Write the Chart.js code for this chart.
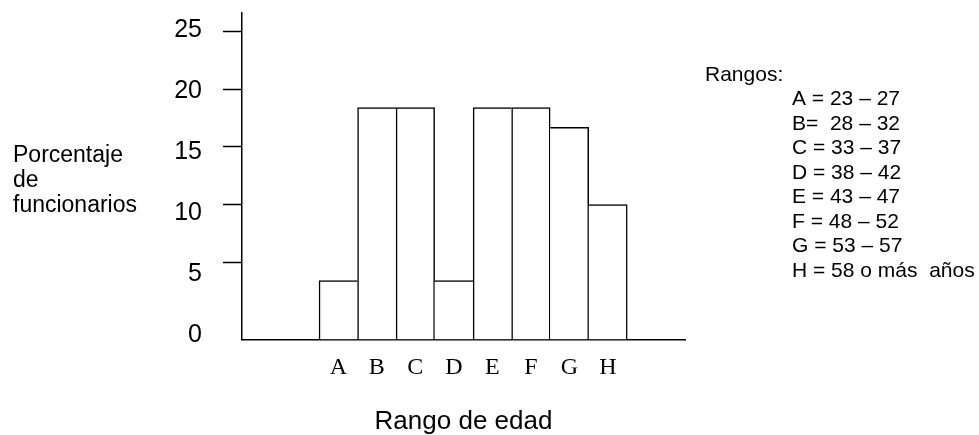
<!DOCTYPE html>
<html>
<head>
<meta charset="utf-8">
<script src="https://cdn.jsdelivr.net/npm/chart.js@4"></script>
<style>
  body { margin: 0; background: #fff; }
  #wrap { width: 979px; height: 435px; position: relative; }
</style>
</head>
<body>
<div id="wrap"><canvas id="myChart"></canvas></div>
<script>
// datos
const categories = ["A", "B", "C", "D", "E", "F", "G", "H"];
const percentages = [3.4, 18.4, 18.4, 3.4, 18.4, 18.4, 16.7, 10];
const yTickValues = [5, 10, 15, 20, 25];
const yLabelValues = [0, 5, 10, 15, 20, 25];
const yTickLabels = ["0", "5", "10", "15", "20", "25"];
const yTitleLines = ["Porcentaje", "de", "funcionarios"];
const rangeTitle = "Rangos:";
const rangeLabels = [
  "A = 23 – 27",
  "B=  28 – 32",
  "C = 33 – 37",
  "D = 38 – 42",
  "E = 43 – 47",
  "F = 48 – 52",
  "G = 53 – 57",
  "H = 58 o más  años",
];

// en el original la base de las barras queda algo por debajo del 0 real
// y la columna de numeros no coincide del todo con las marcas
const yAxisMin = -1.7;
const yAxisMax = 26.6;
const labelAxisMin = -0.33;
const labelAxisMax = 26.37;
const firstSlot = 2.5; // dos huecos vacios antes de A
const xAxisMax = 11.5;

const line = 1.5;
const sans = "'Liberation Sans', Arial, sans-serif";

// bordes: la arista compartida la dibuja la barra mas alta
function barBorder(ctx) {
  const i = ctx.dataIndex;
  const v = percentages[i];
  const left = i === 0 || percentages[i - 1] <= v ? line : 0;
  const right = i === percentages.length - 1 || percentages[i + 1] < v ? line : 0;
  return { top: line, left: left, right: right, bottom: 0 };
}

const textPlugin = {
  id: "sideTexts",
  afterDraw(chart) {
    const c = chart.ctx;
    c.save();
    c.fillStyle = "#000";
    c.textAlign = "left";
    c.textBaseline = "alphabetic";

    c.font = "23px " + sans;
    yTitleLines.forEach((t, i) => c.fillText(t, 13, 162 + i * 25));

    c.font = "21px " + sans;
    c.fillText(rangeTitle, 705, 81);
    rangeLabels.forEach((t, i) => c.fillText(t, 792, 105 + i * 24.5));
    c.restore();
  },
};

const ctx = document.getElementById("myChart").getContext("2d");

const myChart = new Chart(ctx, {
  type: "bar",
  data: {
    datasets: [
      {
        data: percentages.map((v, i) => ({ x: i + firstSlot, y: v })),
        backgroundColor: "#fff",
        borderColor: "#000",
        borderWidth: barBorder,
        borderSkipped: false,
        base: yAxisMin,
        barPercentage: 1,
        categoryPercentage: 1,
      },
    ],
  },
  options: {
    responsive: true,
    maintainAspectRatio: false,
    animation: false,
    layout: { padding: { top: 13, left: 0, right: 294, bottom: 0 } },
    scales: {
      x: {
        type: "linear",
        min: 0,
        max: xAxisMax,
        offset: false,
        grid: { offset: false, drawOnChartArea: false, drawTicks: false },
        border: { display: true, color: "#000", width: line },
        afterBuildTicks: (axis) => {
          axis.ticks = categories.map((c, i) => ({ value: i + firstSlot }));
        },
        afterFit: (axis) => {
          axis.height = 95.5;
          axis.paddingLeft = 0;
          axis.paddingRight = 0;
        },
        ticks: {
          autoSkip: false,
          maxRotation: 0,
          padding: 14,
          color: "#000",
          font: { family: "'Liberation Serif', 'Times New Roman', serif", size: 24 },
          callback: (value, index) => categories[index],
        },
        title: {
          display: true,
          text: "Rango de edad",
          color: "#000",
          padding: { top: 0, bottom: -2 },
          font: { family: sans, size: 26 },
        },
      },
      // eje de las barras: solo linea y marcas
      y: {
        position: "left",
        weight: 0,
        min: yAxisMin,
        max: yAxisMax,
        grid: {
          drawOnChartArea: false,
          drawTicks: true,
          tickLength: 19,
          tickWidth: line,
          color: "#000",
        },
        border: { display: true, color: "#000", width: line },
        afterBuildTicks: (axis) => {
          axis.ticks = yTickValues.map((v) => ({ value: v }));
        },
        afterFit: (axis) => {
          axis.width = 19;
          axis.paddingTop = 0;
          axis.paddingBottom = 0;
        },
        ticks: { display: false },
      },
      // columna de numeros
      yLabels: {
        type: "linear",
        display: true,
        position: "left",
        weight: 1,
        min: labelAxisMin,
        max: labelAxisMax,
        grid: { display: false, drawTicks: false },
        border: { display: false },
        afterBuildTicks: (axis) => {
          axis.ticks = yLabelValues.map((v) => ({ value: v }));
        },
        afterFit: (axis) => {
          axis.width = 223;
          axis.paddingTop = 0;
          axis.paddingBottom = 0;
        },
        ticks: {
          padding: 21,
          color: "#000",
          font: { family: sans, size: 25 },
          callback: (value, index) => yTickLabels[index],
        },
      },
    },
    plugins: {
      legend: { display: false },
      tooltip: { enabled: false },
    },
  },
  plugins: [textPlugin],
});
</script>
</body>
</html>
